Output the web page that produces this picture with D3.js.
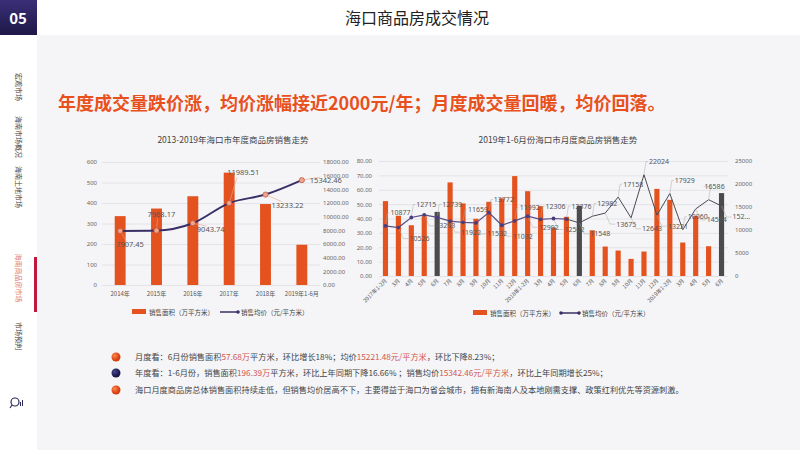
<!DOCTYPE html>
<html>
<head>
<meta charset="utf-8">
<script src="https://cdn.jsdelivr.net/npm/d3@7"></script>
<style>
body { margin: 0; background: #fff; }
svg { display: block; }
text { font-family: "Noto Sans CJK SC", "Noto Sans", sans-serif; }
</style>
</head>
<body>
<svg id="slide" width="800" height="450"></svg>
<script>
// ---- data ----
var years = ["2014年", "2015年", "2016年", "2017年", "2018年", "2019年1-6月"];
var yearArea = [336, 373, 433, 548, 395, 196.39];
var yearPrice = [7907.45, 7968.17, 9043.74, 11989.51, 13233.22, 15342.46];

var months = ["2017年1-2月", "3月", "4月", "5月", "6月", "7月", "8月", "9月", "10月", "11月", "12月",
              "2018年1-2月", "3月", "4月", "5月", "6月", "7月", "8月", "9月", "10月", "11月", "12月",
              "2019年1-2月", "3月", "4月", "5月", "6月"];
var monthArea = [52.1, 41.9, 35.3, 41.6, 44.6, 65.1, 50.5, 39.8, 51.6, 54.0, 69.5,
                 59.0, 48.6, 33.7, 41.2, 48.9, 31.8, 20.5, 17.7, 11.9, 17.0, 60.6,
                 53.0, 23.3, 41.7, 20.7, 57.68];
var monthPrice = [10877, 10526, 12715, 13293, 12739, 11922, 11659, 11532, 13772, 11032, 11992,
                  12992, 12306, 12502, 12376, 11548, 12982, 13675, 17158, 12643, 22024, 13221,
                  17929, 10060, 14584, 16586, 15221];

var navItems = ["宏观市场", "海南市场概况", "海南土地市场", "海南商品房市场", "市场预判"];
var pageTitle = "海口商品房成交情况";
var headline = "年度成交量跌价涨，均价涨幅接近2000元/年；月度成交量回暖，均价回落。";
var yearTitle = "2013-2019年海口市年度商品房销售走势";
var monthTitle = "2019年1-6月份海口市月度商品房销售走势";
var legendArea = "销售面积（万平方米）";
var legendPrice = "销售均价（元/平方米）";

var notes = [
    [["月度看：6月份销售面积", 0], ["57.68万", 1], ["平方米，环比增长18%；均价", 0], ["15221.48元/平方米", 1], ["，环比下降8.23%；", 0]],
    [["年度看：1-6月份，销售面积", 0], ["196.39万", 1], ["平方米，环比上年同期下降16.66% ；销售均价", 0], ["15342.46元/平方米", 1], ["，环比上年同期增长25%；", 0]],
    [["海口月度商品房总体销售面积持续走低，但销售均价居高不下，主要得益于海口为省会城市，拥有新海南人及本地刚需支撑、政策红利优先等资源刺激。", 0]]
];

var orange = "#e4531f";
var navy = "#3a2f66";

var svg = d3.select("#slide");
var defs = svg.append("defs");

var grad = defs.append("linearGradient").attr("id", "boxGrad")
    .attr("x1", 0).attr("y1", 0).attr("x2", 0).attr("y2", 1);
grad.append("stop").attr("offset", "0%").attr("stop-color", "#3b2f78");
grad.append("stop").attr("offset", "100%").attr("stop-color", "#1d1846");

var ballO = defs.append("radialGradient").attr("id", "ballO").attr("cx", "35%").attr("cy", "35%");
ballO.append("stop").attr("offset", "0%").attr("stop-color", "#ff8a50");
ballO.append("stop").attr("offset", "100%").attr("stop-color", "#d8400f");
var ballN = defs.append("radialGradient").attr("id", "ballN").attr("cx", "35%").attr("cy", "35%");
ballN.append("stop").attr("offset", "0%").attr("stop-color", "#4a4790");
ballN.append("stop").attr("offset", "100%").attr("stop-color", "#1c1a4a");

// ---- page frame ----
svg.append("rect").attr("width", 800).attr("height", 450).attr("fill", "#f5f5f8");
svg.append("rect").attr("width", 800).attr("height", 35).attr("fill", "#fff");
svg.append("rect").attr("y", 35).attr("width", 37).attr("height", 415).attr("fill", "#fff");
svg.append("rect").attr("width", 37).attr("height", 35).attr("fill", "url(#boxGrad)");
svg.append("text").attr("x", 18).attr("y", 24).attr("text-anchor", "middle")
    .attr("fill", "#fff").style("font-size", "15px").style("font-weight", "bold").text("05");
svg.append("text").attr("x", 417).attr("y", 24).attr("text-anchor", "middle")
    .attr("fill", "#222").style("font-size", "16px").text(pageTitle);

// sidebar
var navY = [87, 137, 187, 278, 336];
navItems.forEach(function(t, i) {
    svg.append("text")
        .attr("transform", "translate(16," + navY[i] + ") rotate(90)")
        .attr("text-anchor", "middle")
        .attr("fill", i === 3 ? "#e07b6c" : "#444")
        .style("font-size", "7px")
        .text(t);
});
svg.append("rect").attr("x", 34).attr("y", 257).attr("width", 3).attr("height", 55).attr("fill", "#c0183c");
// small logo
svg.append("circle").attr("cx", 15).attr("cy", 402).attr("r", 4).attr("fill", "none").attr("stroke", "#2b2a5a").attr("stroke-width", 1.2);
svg.append("line").attr("x1", 12).attr("y1", 405).attr("x2", 10).attr("y2", 408).attr("stroke", "#2b2a5a").attr("stroke-width", 1.2);
svg.append("rect").attr("x", 20).attr("y", 402).attr("width", 1).attr("height", 4).attr("fill", "#2b2a5a");
svg.append("rect").attr("x", 22).attr("y", 400).attr("width", 1).attr("height", 6).attr("fill", "#2b2a5a");

// headline
svg.append("text").attr("x", 58).attr("y", 110)
    .attr("fill", "#e8501c").style("font-size", "18px").style("font-weight", "bold")
    .text(headline);

// ---- helpers ----
function gridAndAxes(g, yL, yR, left, right, leftTicks, rightTicks, fmtL, fmtR, xL, xR) {
    g.append("g")
      .attr("transform", "translate(" + left + ",0)")
      .call(d3.axisLeft(yL).tickValues(leftTicks).tickSize(-(right - left)).tickFormat(""))
      .call(function(a) {
          a.select(".domain").remove();
          a.selectAll("line").attr("stroke", "#dedee4").attr("stroke-width", 0.8);
      });
    g.append("g")
      .attr("transform", "translate(" + xL + ",0)")
      .call(d3.axisLeft(yL).tickValues(leftTicks).tickSize(0).tickPadding(0).tickFormat(fmtL))
      .call(function(a) {
          a.select(".domain").remove();
          a.selectAll("text").attr("fill", "#666").style("font-size", "6px")
            .style("font-family", "'Noto Sans', sans-serif");
      });
    g.append("g")
      .attr("transform", "translate(" + xR + ",0)")
      .call(d3.axisRight(yR).tickValues(rightTicks).tickSize(0).tickPadding(0).tickFormat(fmtR))
      .call(function(a) {
          a.select(".domain").remove();
          a.selectAll("text").attr("fill", "#666").style("font-size", "6px")
            .style("font-family", "'Noto Sans', sans-serif");
      });
}

function legend(g, x, y, gap, dots) {
    g.append("rect").attr("x", x).attr("y", y - 3).attr("width", 14).attr("height", 5).attr("fill", orange);
    g.append("text").attr("x", x + 17).attr("y", y + 2.5).attr("fill", "#444").style("font-size", "6.5px").text(legendArea);
    var lx = x + gap;
    g.append("line").attr("x1", lx).attr("x2", lx + 18).attr("y1", y).attr("y2", y).attr("stroke", navy).attr("stroke-width", 1.5);
    if (dots) {
        g.append("circle").attr("cx", lx).attr("cy", y).attr("r", 1.8).attr("fill", navy);
    }
    g.append("circle").attr("cx", lx + 18).attr("cy", y).attr("r", 1.8).attr("fill", navy);
    g.append("text").attr("x", lx + 21).attr("y", y + 2.5).attr("fill", "#444").style("font-size", "6.5px").text(legendPrice);
}

// ---- yearly chart ----
(function() {
    var g = svg.append("g");
    var left = 102, right = 320, top = 162, bottom = 285;
    var x = d3.scaleBand().domain(years).range([left, right]).paddingInner(0.7).paddingOuter(0.35);
    var yA = d3.scaleLinear().domain([0, 600]).range([bottom, top]);
    var yP = d3.scaleLinear().domain([0, 18000]).range([bottom, top]);

    g.append("text").attr("x", 233).attr("y", 143).attr("text-anchor", "middle")
        .attr("fill", "#444").style("font-size", "8.5px").text(yearTitle);

    gridAndAxes(g, yA, yP, left, right, d3.range(0, 601, 100), d3.range(0, 18001, 2000),
        d3.format("d"), d3.format(".2f"), 97, 323);

    g.selectAll(".bar").data(yearArea).enter().append("rect")
        .attr("x", function(d, i) { return x(years[i]); })
        .attr("y", function(d) { return yA(d); })
        .attr("width", x.bandwidth())
        .attr("height", function(d) { return bottom - yA(d); })
        .attr("fill", orange);

    g.selectAll(".xl").data(years).enter().append("text")
        .attr("x", function(d) { return x(d) + x.bandwidth() / 2; })
        .attr("y", 296).attr("text-anchor", "middle")
        .attr("fill", "#555").style("font-size", "6px").text(function(d) { return d; });

    var cx = function(i) { return x(years[i]) + x.bandwidth() / 2; };
    var line = d3.line().x(function(d, i) { return cx(i); }).y(function(d) { return yP(d); })
        .curve(d3.curveMonotoneX);
    g.append("path").datum(yearPrice).attr("d", line)
        .attr("fill", "none").attr("stroke", navy).attr("stroke-width", 2);

    // label offsets (layout only)
    var lab = [[-4, 16], [-9, -14], [4, 9], [-2, -28], [6, 13], [8, 3]];
    yearPrice.forEach(function(v, i) {
        var px = cx(i), py = yP(v);
        var tx = px + lab[i][0], ty = py + lab[i][1];
        g.append("polyline")
            .attr("points", [[px, py], [tx + 10, ty + (lab[i][1] < 0 ? 2 : -6)]].join(" "))
            .attr("fill", "none").attr("stroke", "#e8a58f").attr("stroke-width", 0.6);
        g.append("text").attr("x", tx).attr("y", ty)
            .attr("fill", "#555").style("font-size", "7.5px")
            .style("font-family", "'Noto Sans', sans-serif")
            .text(d3.format(".2f")(v));
    });
    g.selectAll(".pt").data(yearPrice).enter().append("circle")
        .attr("cx", function(d, i) { return cx(i); })
        .attr("cy", function(d) { return yP(d); })
        .attr("r", 2.6).attr("fill", "#f0a58c").attr("stroke", "#b8503a").attr("stroke-width", 0.7);

    legend(g, 132, 312, 88, false);
})();

// ---- monthly chart ----
(function() {
    var g = svg.append("g");
    var left = 379, right = 728, top = 161, bottom = 276;
    var idx = d3.range(months.length);
    var x = d3.scaleBand().domain(idx).range([left, right]).paddingInner(0.6).paddingOuter(0.3);
    var yA = d3.scaleLinear().domain([0, 80]).range([bottom, top]);
    var yP = d3.scaleLinear().domain([0, 25000]).range([bottom, top]);

    g.append("text").attr("x", 558).attr("y", 143).attr("text-anchor", "middle")
        .attr("fill", "#444").style("font-size", "8.5px").text(monthTitle);

    gridAndAxes(g, yA, yP, left, right, d3.range(0, 81, 10), d3.range(0, 25001, 5000),
        d3.format(".2f"), d3.format("d"), 372, 735);

    var cx = function(i) { return x(i) + x.bandwidth() / 2; };

    g.selectAll(".bar").data(monthArea).enter().append("rect")
        .attr("x", function(d, i) { return x(i); })
        .attr("y", function(d) { return yA(d); })
        .attr("width", x.bandwidth())
        .attr("height", function(d) { return bottom - yA(d); })
        .attr("fill", function(d, i) { return months[i] === "6月" ? "#4b4b4e" : orange; });

    g.selectAll(".xl").data(months).enter().append("text")
        .attr("transform", function(d, i) { return "translate(" + (cx(i) + 2) + ",281) rotate(-45)"; })
        .attr("text-anchor", "end")
        .attr("fill", "#555").style("font-size", "5.5px").text(function(d) { return d; });

    var split = 14;
    var line = d3.line().x(function(d) { return cx(d); }).y(function(d) { return yP(monthPrice[d]); });
    g.append("path").datum(idx.slice(split)).attr("d", line)
        .attr("fill", "none").attr("stroke", "#4a4a52").attr("stroke-width", 1);
    g.append("path").datum(idx.slice(0, split + 1)).attr("d", line)
        .attr("fill", "none").attr("stroke", "#5b4d86").attr("stroke-width", 1.2);

    // labels alternate above / below the line
    monthPrice.forEach(function(v, i) {
        var up = i < 23 ? i % 2 === 0 : i % 2 === 1;
        var px = cx(i), py = yP(v);
        var ly = up ? py - 13 : py + 11;
        var tx = px + (up ? 5 : 11);
        if (i === 25) tx = px - 4;
        g.append("polyline")
            .attr("points", [[px, py], [px + (up ? 2 : 5), ly], [tx - 1, ly]].join(" "))
            .attr("fill", "none").attr("stroke", "#aaa").attr("stroke-width", 0.5);
        var txt = i === monthPrice.length - 1 ? String(v).slice(0, 3) + "..." : String(v);
        g.append("text").attr("x", tx).attr("y", ly + 2.5)
            .attr("fill", "#555").style("font-size", "7px")
            .style("font-family", "'Noto Sans', sans-serif").text(txt);
    });

    g.selectAll(".pt").data(idx.slice(0, split + 1)).enter().append("circle")
        .attr("cx", function(d) { return cx(d); })
        .attr("cy", function(d) { return yP(monthPrice[d]); })
        .attr("r", 1.9).attr("fill", "#4b3d7c");

    legend(g, 473, 313, 88, true);
})();

// ---- notes ----
var noteY = [360, 376, 393];
var ballFill = ["url(#ballO)", "url(#ballN)", "url(#ballO)"];
notes.forEach(function(parts, i) {
    svg.append("circle").attr("cx", 116).attr("cy", noteY[i] - 3).attr("r", 4.5).attr("fill", ballFill[i]);
    var t = svg.append("text").attr("x", 135).attr("y", noteY[i]).style("font-size", "8.2px");
    parts.forEach(function(p) {
        t.append("tspan").attr("fill", p[1] ? "#d2574f" : "#444").text(p[0]);
    });
});
</script>
</body>
</html>
